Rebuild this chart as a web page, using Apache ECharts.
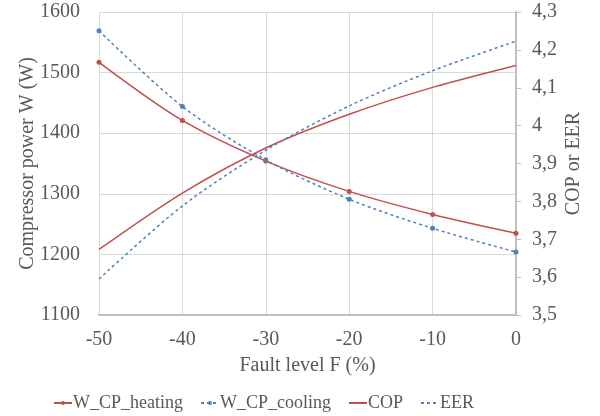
<!DOCTYPE html>
<html><head><meta charset="utf-8">
<script src="https://cdn.jsdelivr.net/npm/echarts@6/dist/echarts.min.js"></script>
<style>html,body{margin:0;padding:0;background:#fff}#c{width:600px;height:416px}</style>
</head><body><div id="c"></div>
<script>
var faultLevels = [-50, -40, -30, -20, -10, 0];
var wHeating = [1517, 1421, 1354, 1304, 1266, 1235];
var wCooling = [1569, 1444, 1356, 1291, 1243, 1204];
var cop = [3.673, 3.822, 3.941, 4.030, 4.101, 4.159];
var eer = [3.595, 3.788, 3.935, 4.052, 4.145, 4.223];

function pairs(xs, ys){ return xs.map(function(x,i){ return [x, ys[i]]; }); }

var font = 'Liberation Serif';
var txt = '#595959';
var red = '#C0504D', blue = '#4F81BD';
var fs = 20;
var hidden = {color: 'rgba(0,0,0,0)', borderColor: 'rgba(0,0,0,0)', borderWidth: 0, opacity: 0};

var chart = echarts.init(document.getElementById('c'));
chart.setOption({
  animation: false,
  textStyle: {fontFamily: font},
  grid: {left: 99, right: 84, top: 12, bottom: 101},
  xAxis: {
    type: 'value', min: -50, max: 0, interval: 10,
    name: 'Fault level F (%)', nameLocation: 'middle', nameGap: 41,
    nameTextStyle: {fontFamily: font, fontSize: fs, color: txt},
    axisLine: {show: true, onZero: false, lineStyle: {color: '#BFBFBF', width: 2}},
    axisTick: {show: false},
    axisLabel: {fontFamily: font, fontSize: fs, color: txt, margin: 15},
    splitLine: {show: true, lineStyle: {color: '#D9D9D9', width: 1}}
  },
  yAxis: [{
    type: 'value', min: 1100, max: 1600, interval: 100, position: 'left',
    name: 'Compressor power W (W)', nameLocation: 'middle', nameGap: 61, nameRotate: 90,
    nameMoveOverlap: false,
    nameTextStyle: {fontFamily: font, fontSize: fs, color: txt},
    axisLine: {show: true, lineStyle: {color: '#BFBFBF', width: 2}},
    axisTick: {show: false},
    axisLabel: {fontFamily: font, fontSize: fs, color: txt, margin: 19,
      formatter: function(v){ return String(v); }},
    splitLine: {show: true, lineStyle: {color: '#D9D9D9', width: 1}}
  }, {
    type: 'value', min: 3.5, max: 4.3, interval: 0.1, position: 'right',
    name: 'COP or EER', nameLocation: 'middle', nameGap: 48, nameRotate: 90,
    nameMoveOverlap: false,
    nameTextStyle: {fontFamily: font, fontSize: fs, color: txt},
    axisLine: {show: true, lineStyle: {color: '#BFBFBF', width: 2}},
    axisTick: {show: true, length: 5, lineStyle: {color: '#BFBFBF'}},
    axisLabel: {fontFamily: font, fontSize: fs, color: txt, margin: 16,
      formatter: function(v){ return String(Math.round(v*10)/10).replace('.', ','); }},
    splitLine: {show: false}
  }],
  legend: {
    left: 48, top: 389, itemGap: 17, itemWidth: 18, itemHeight: 5,
    textStyle: {fontFamily: font, fontSize: 18, color: txt, padding: [0,0,0,-4]},
    data: [
      {name: 'W_CP_heating'},
      {name: 'W_CP_cooling'},
      {name: 'COP', itemStyle: hidden},
      {name: 'EER', itemStyle: hidden}
    ]
  },
  series: [{
    name: 'W_CP_heating', type: 'line', yAxisIndex: 0, smooth: 0.3,
    data: pairs(faultLevels, wHeating),
    symbol: 'circle', symbolSize: 5,
    lineStyle: {color: red, width: 1.5}, itemStyle: {color: red}
  }, {
    name: 'W_CP_cooling', type: 'line', yAxisIndex: 0, smooth: 0.3,
    data: pairs(faultLevels, wCooling),
    symbol: 'circle', symbolSize: 5,
    lineStyle: {color: blue, width: 1.5, type: [3, 3]}, itemStyle: {color: blue}
  }, {
    name: 'COP', type: 'line', yAxisIndex: 1, smooth: 0.3,
    data: pairs(faultLevels, cop),
    symbol: 'none',
    lineStyle: {color: red, width: 1.5}, itemStyle: {color: red}
  }, {
    name: 'EER', type: 'line', yAxisIndex: 1, smooth: 0.3,
    data: pairs(faultLevels, eer),
    symbol: 'none',
    lineStyle: {color: blue, width: 1.5, type: [3, 3]}, itemStyle: {color: blue}
  }]
});
</script></body></html>
